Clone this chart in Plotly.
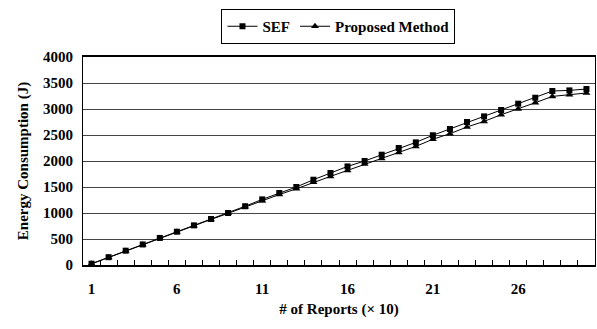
import plotly.graph_objects as go

reports = list(range(1, 31))
sef = [25, 150, 275, 395, 520, 640, 762, 884, 1000, 1130, 1262, 1385, 1500, 1640, 1769,
       1896, 2000, 2121, 2250, 2358, 2495, 2615, 2750, 2858, 2981, 3102, 3217, 3346, 3358, 3384]
proposed = [22, 146, 270, 390, 513, 634, 756, 876, 993, 1118, 1236, 1355, 1465, 1589, 1704,
            1819, 1942, 2050, 2165, 2281, 2418, 2525, 2654, 2762, 2890, 3000, 3121, 3242, 3275, 3308]
x_tick_vals = [1, 6, 11, 16, 21, 26]
y_tick_vals = [0, 500, 1000, 1500, 2000, 2500, 3000, 3500, 4000]

FONT = "Liberation Serif"

fig = go.Figure()
fig.add_trace(go.Scatter(
    x=reports, y=sef, name="SEF", mode="lines+markers",
    line=dict(color="black", width=1),
    marker=dict(symbol="square", size=6, color="black"),
))
fig.add_trace(go.Scatter(
    x=reports, y=proposed, name="Proposed Method", mode="lines+markers",
    line=dict(color="black", width=1),
    marker=dict(symbol="triangle-up", size=7, color="black"),
))

fig.update_layout(
    width=597, height=329,
    margin=dict(l=83, r=2, t=57, b=64, autoexpand=False),
    paper_bgcolor="white", plot_bgcolor="white",
    font=dict(family=FONT, size=15, color="black", weight="bold"),
    showlegend=True,
    legend=dict(
        orientation="h", x=0.499, xanchor="center",
        yref="container", y=1 - 9.0 / 329, yanchor="top",
        bordercolor="black", borderwidth=1, bgcolor="white",
        font=dict(family=FONT, size=15, color="black", weight="bold"),
        itemwidth=30, tracegroupgap=0,
    ),
    xaxis=dict(
        range=[0.5, 30.5], automargin=False,
        tickvals=x_tick_vals, ticktext=[str(v) for v in x_tick_vals],
        ticks="", showgrid=False, zeroline=False,
        showline=True, linecolor="black", linewidth=1.5, mirror=True,
        ticklabelstandoff=9,
        tickfont=dict(family=FONT, size=15, color="black", weight="bold"),
        minor=dict(tickvals=[i + 0.5 for i in range(1, 30)], ticks="inside",
                   ticklen=5, tickcolor="black", tickwidth=1, showgrid=False),
        title=dict(text="# of Reports (× 10)", standoff=8,
                   font=dict(family=FONT, size=15, color="black", weight="bold")),
    ),
    yaxis=dict(
        range=[0, 4000], tickvals=y_tick_vals, automargin=False,
        ticks="", showgrid=True, gridcolor="#444444", gridwidth=1, zeroline=False,
        showline=True, linecolor="black", linewidth=1, mirror=True,
        ticklabelstandoff=6,
        tickfont=dict(family=FONT, size=15, color="black", weight="bold"),
        title=dict(text="Energy Consumption (J)", standoff=10,
                   font=dict(family=FONT, size=15, color="black", weight="bold")),
    ),
)

post = (
    "document.documentElement.style.margin='0';"
    "document.body.style.margin='0';"
    "document.body.style.overflow='hidden';"
    "var gd=document.getElementById('{plot_id}');"
    "Plotly.relayout(gd,{width:597,height:329});"
)

fig.write_html("out.html", post_script=post, config={"displayModeBar": False})
